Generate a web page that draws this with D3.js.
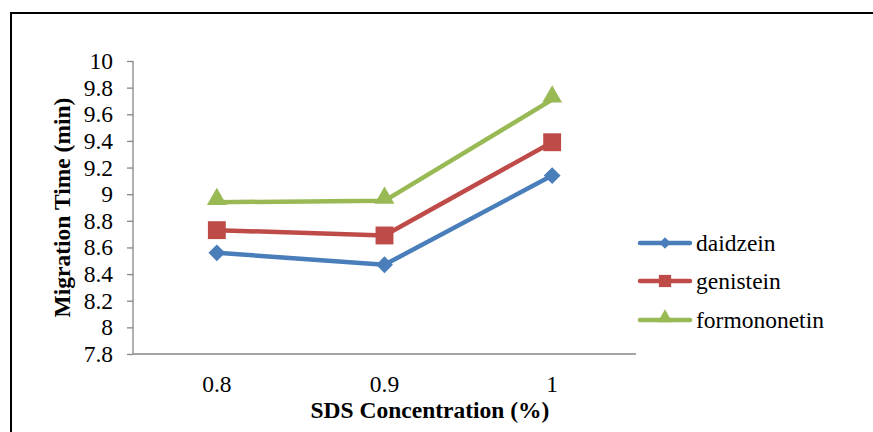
<!DOCTYPE html>
<html>
<head>
<meta charset="utf-8">
<script src="https://cdn.jsdelivr.net/npm/d3@7"></script>
<style>
  html, body { margin: 0; padding: 0; background: #fff; }
  svg { display: block; }
  svg text { font-family: "Liberation Serif", "Times New Roman", "DejaVu Serif", serif; fill: #000; }
</style>
</head>
<body>
<svg id="chart" width="873" height="432"></svg>
<script>
// SDS concentration (%) on the x axis
const categories = ["0.8", "0.9", "1"];
// Migration times (min) per analyte
const daidzein = [8.56, 8.47, 9.14];
const genistein = [8.73, 8.69, 9.39];
const formononetin = [8.94, 8.95, 9.71];
const seriesNames = ["daidzein", "genistein", "formononetin"];
const yTicks = [7.8, 8, 8.2, 8.4, 8.6, 8.8, 9, 9.2, 9.4, 9.6, 9.8, 10];

const series = [
  { name: seriesNames[0], values: daidzein, color: "#4A7EBB", marker: "diamond" },
  { name: seriesNames[1], values: genistein, color: "#BE4B48", marker: "square" },
  { name: seriesNames[2], values: formononetin, color: "#98B954", marker: "triangle" }
];

const svg = d3.select("#chart");
const fontSize = 23.5;

// outer frame (left and top edges)
svg.append("path")
  .attr("d", "M11,432 V13 H873")
  .attr("fill", "none")
  .attr("stroke", "#000")
  .attr("stroke-width", 2);

const plot = { left: 133, right: 636, top: 61, bottom: 354 };

const x = d3.scaleBand().domain(categories).range([plot.left, plot.right]);
const y = d3.scaleLinear().domain([7.8, 10]).range([plot.bottom, plot.top]);
const cx = c => x(c) + x.bandwidth() / 2;

// y axis
const yAxis = svg.append("g")
  .attr("transform", `translate(${plot.left},0)`)
  .call(d3.axisLeft(y).tickValues(yTicks).tickSize(6).tickPadding(14)
    .tickFormat(d => d3.format("~g")(d)));
yAxis.attr("font-family", null).attr("font-size", null);
yAxis.select(".domain").attr("stroke", "#868686").attr("stroke-width", 1.3)
  .attr("d", `M0,${plot.top}V${plot.bottom}`);
yAxis.selectAll(".tick line").attr("stroke", "#868686").attr("stroke-width", 1.3);
yAxis.selectAll(".tick text").style("font-size", fontSize + "px");

// x axis
const xAxis = svg.append("g")
  .attr("transform", `translate(0,${plot.bottom})`)
  .call(d3.axisBottom(x).tickSize(0).tickPadding(21));
xAxis.attr("font-family", null).attr("font-size", null);
xAxis.select(".domain").attr("stroke", "#868686").attr("stroke-width", 1.3)
  .attr("d", `M${plot.left},0H${plot.right}`);
xAxis.selectAll(".tick text").style("font-size", fontSize + "px");

// axis titles
svg.append("text")
  .attr("x", 430).attr("y", 418)
  .attr("text-anchor", "middle")
  .style("font-size", fontSize + "px").style("font-weight", "bold")
  .text("SDS Concentration (%)");

svg.append("text")
  .attr("transform", `translate(70,${(plot.top + plot.bottom) / 2}) rotate(-90)`)
  .attr("text-anchor", "middle")
  .style("font-size", fontSize + "px").style("font-weight", "bold")
  .text("Migration Time (min)");

const symbolType = { diamond: d3.symbolDiamond2, square: d3.symbolSquare, triangle: d3.symbolTriangle };
const plotSize = { diamond: 180, square: 320, triangle: 170 };
const legendSize = { diamond: 85, square: 150, triangle: 95 };
// triangles are centred on their bounding box rather than their centroid
const triLift = s => Math.sqrt(s * 4 / Math.sqrt(3)) * Math.sqrt(3) / 2 / 6;

const line = d3.line()
  .x((d, i) => cx(categories[i]))
  .y(d => y(d));

series.forEach(s => {
  const g = svg.append("g");
  g.append("path")
    .attr("d", line(s.values))
    .attr("fill", "none")
    .attr("stroke", s.color)
    .attr("stroke-width", 4.5)
    .attr("stroke-linejoin", "round")
    .attr("stroke-linecap", "round");
  g.selectAll("path.m").data(s.values).join("path")
    .attr("class", "m")
    .attr("d", d3.symbol().type(symbolType[s.marker]).size(plotSize[s.marker]))
    .attr("transform", (d, i) => {
      const dy = s.marker === "triangle" ? -triLift(plotSize.triangle) : 0;
      return `translate(${cx(categories[i])},${y(d) + dy})`;
    })
    .attr("fill", s.color);
});

// legend
const legend = svg.append("g");
const legendY = [243, 281, 320];
series.forEach((s, i) => {
  const ly = legendY[i];
  legend.append("line")
    .attr("x1", 640).attr("x2", 690)
    .attr("y1", ly).attr("y2", ly)
    .attr("stroke", s.color).attr("stroke-width", 4.5)
    .attr("stroke-linecap", "round");
  const dy = s.marker === "triangle" ? -triLift(legendSize.triangle) : 0;
  legend.append("path")
    .attr("d", d3.symbol().type(symbolType[s.marker]).size(legendSize[s.marker]))
    .attr("transform", `translate(665,${ly + dy})`)
    .attr("fill", s.color);
  legend.append("text")
    .attr("x", 696).attr("y", ly + 8)
    .style("font-size", fontSize + "px")
    .text(s.name);
});
</script>
</body>
</html>
